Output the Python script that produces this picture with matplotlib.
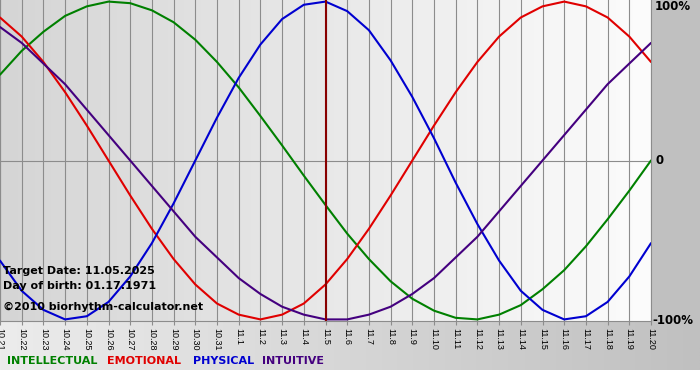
import numpy as np
import matplotlib
matplotlib.use("Agg")
import matplotlib.pyplot as plt
from matplotlib.colors import LinearSegmentedColormap
from matplotlib.patches import Rectangle

# ---- data (percent values read per day) ----
dates = ["10.21", "10.22", "10.23", "10.24", "10.25", "10.26", "10.27", "10.28",
         "10.29", "10.30", "10.31", "11.1", "11.2", "11.3", "11.4", "11.5",
         "11.6", "11.7", "11.8", "11.9", "11.10", "11.11", "11.12", "11.13",
         "11.14", "11.15", "11.16", "11.17", "11.18", "11.19", "11.20"]
intellectual = [54, 69, 81, 91, 97, 100, 99, 94.5, 87, 76, 62, 46, 28, 9.5, -9.5, -28,
                -46, -62, -76, -87, -94.5, -99, -100, -97, -91, -81, -69, -54, -37, -19, 0]
emotional = [90, 78, 62, 43, 22, 0, -22, -43, -62, -78, -90, -97, -100, -97, -90, -78,
             -62, -43, -22, 0, 22, 43, 62, 78, 90, 97, 100, 97, 90, 78, 62]
physical = [-63, -82, -94, -100, -98, -89, -73, -52, -27, 0, 27, 52, 73, 89, 98, 100,
            94, 82, 63, 40, 14, -14, -40, -63, -82, -94, -100, -98, -89, -73, -52]
intuitive = [84, 74, 61, 48, 32, 16, 0, -16, -32, -48, -61, -74, -84, -92, -97, -100,
             -100, -97, -92, -84, -74, -61, -48, -32, -16, 0, 16, 32, 48, 61, 74]
target_label = "11.5"
series_names = ["INTELLECTUAL", "EMOTIONAL", "PHYSICAL", "INTUITIVE"]
series_colors = ["#008000", "#e00000", "#0000d0", "#44007f"]
info_lines = ["Target Date: 11.05.2025", "Day of birth: 01.17.1971", "\u00a92010 biorhythm-calculator.net"]

W, H = 700, 380
fig = plt.figure(figsize=(W / 100, H / 100), dpi=100)
fig.patch.set_facecolor("white")

def fx(x):
    return x / W

def fy(y):
    return 1 - y / H

# background decorations
bg = fig.add_axes([0, 0, 1, 1], zorder=0)
band_cmap = LinearSegmentedColormap.from_list("band", ["#ececec", "#c0c0c0"])
bg.imshow(np.linspace(0, 1, 256).reshape(1, -1), extent=[0, W, 370, 321],
          aspect="auto", cmap=band_cmap)
bg.add_patch(Rectangle((651, 0), W - 651, 321, color="#c0c0c0", lw=0))
bg.set_xlim(0, W)
bg.set_ylim(H, 0)
bg.axis("off")

# main plot
ax = fig.add_axes([0, (H - 321) / H, 651 / W, 321 / H], zorder=1)
x = np.arange(len(dates))
plot_cmap = LinearSegmentedColormap.from_list("plot", ["#d5d5d5", "#fcfcfc"])
ax.imshow(np.linspace(0, 1, 256).reshape(1, -1), extent=[0, len(dates) - 1, -101, 101],
          aspect="auto", cmap=plot_cmap, zorder=0)

ax.set_xticks(x)
ax.set_xticklabels(dates, family="Liberation Sans")
ax.set_yticks([])
ax.grid(axis="x", color="#8c8c8c", lw=0.8, zorder=1)
ax.axhline(0, color="#8c8c8c", lw=0.8, zorder=1)

for vals, c in zip([intellectual, emotional, physical, intuitive], series_colors):
    ax.plot(x, vals, color=c, lw=1.5, zorder=3, solid_capstyle="round",
            solid_joinstyle="round")

ax.axvline(dates.index(target_label), color="#880000", lw=1.5, zorder=4)

ax.set_xlim(0, len(dates) - 1)
ax.set_ylim(-101, 101)
ax.spines["top"].set_visible(False)
for s in ["left", "right", "bottom"]:
    ax.spines[s].set_color("#8c8c8c")
    ax.spines[s].set_linewidth(0.8)
ax.tick_params(axis="x", length=3, color="#8c8c8c", pad=2, labelsize=6.5,
               labelrotation=-90)
for lab in ax.get_xticklabels():
    lab.set_va("top")
    lab.set_ha("center")

# right labels
fig.text(fx(655), fy(7), "100%", fontsize=8.5, fontweight="bold", va="center", ha="left")
fig.text(fx(655), fy(161), "0", fontsize=8.5, fontweight="bold", va="center", ha="left")
fig.text(fx(652), fy(321), "-100%", fontsize=8.5, fontweight="bold", va="center", ha="left")

# info text
for yy, t in zip([271, 286, 307], info_lines):
    fig.text(fx(3), fy(yy), t, fontsize=8, fontweight="bold", va="center", ha="left",
             zorder=5)

# legend
for xx, name, c in zip([7, 107, 193, 262], series_names, series_colors):
    fig.text(fx(xx), fy(361), name, fontsize=8, fontweight="bold", color=c,
             va="center", ha="left")

fig.savefig("out.png", dpi=100)
